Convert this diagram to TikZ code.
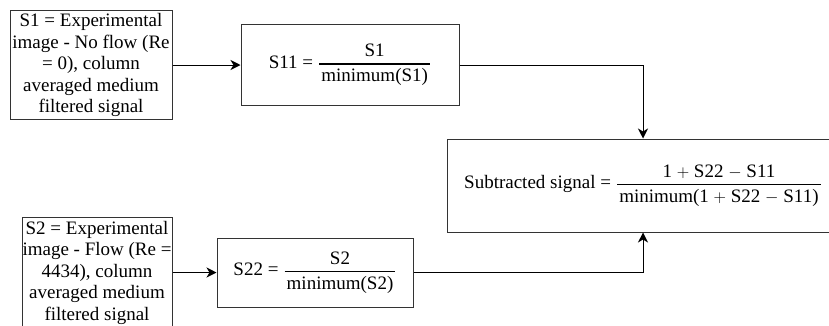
\documentclass[tikz,border=0pt]{standalone}
\usepackage{amsmath}
\usepackage{fontspec}
\setmainfont{Liberation Serif}
\usetikzlibrary{arrows.meta}
\newcommand{\myfrac}[2]{\hspace{5pt}$\genfrac{}{}{1.3pt}{0}{\hspace{2pt}\text{#1}\hspace{2pt}}{\hspace{2pt}\text{#2}\hspace{2pt}}$}
\tikzset{
  box/.style={draw=black!80, line width=1pt, inner sep=0pt, align=center,
    font=\fontsize{19}{21.5}\selectfont},
  conn/.style={line width=1pt, -{Stealth[length=10pt,width=10pt,inset=3pt]}}
}
\begin{document}
\begin{tikzpicture}[x=1pt,y=-1pt]
\useasboundingbox (0,0) rectangle (829,325);
\node[box, minimum width=162pt, minimum height=109pt] (s1) at (91,65)
  {S1 = Experimental\\image - No flow (Re\\= 0), column\\averaged medium\\filtered signal};
\node[box, minimum width=218pt, minimum height=81pt] (s11) at (350,65)
  {S11 =\myfrac{S1}{minimum(S1)}};
\node[box, minimum width=392pt, minimum height=93pt] (sub) at (643,185.5)
  {Subtracted signal =\myfrac{1 $+$ S22 $-$ S11}{minimum(1 $+$ S22 $-$ S11)}};
\node[box, minimum width=150pt, minimum height=110pt] (s2) at (97,272.5)
  {S2 = Experimental\\image - Flow (Re =\\4434), column\\averaged medium\\filtered signal};
\node[box, minimum width=196pt, minimum height=69pt] (s22) at (315,272.5)
  {S22 =\myfrac{S2}{minimum(S2)}};
\draw[conn] (s1.east) -- (s11.west);
\draw[conn] (s2.east) -- (s22.west);
\draw[conn] (s11.east) -| (sub.north);
\draw[conn] (s22.east) -| (sub.south);
\end{tikzpicture}
\end{document}
